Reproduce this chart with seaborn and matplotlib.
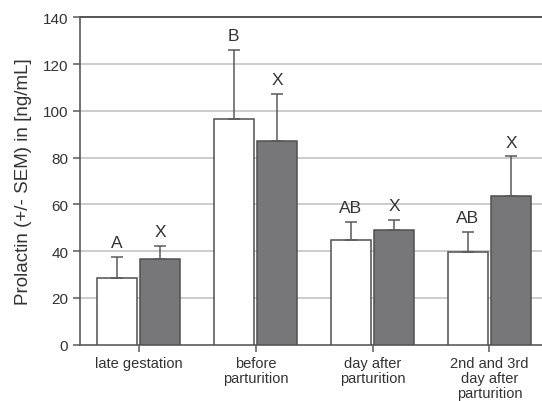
import matplotlib
matplotlib.use("Agg")
import matplotlib.pyplot as plt
import seaborn as sns
import pandas as pd

# Prolactin concentrations per sampling period, two groups (open / filled bars)
categories = ["late gestation", "before\nparturition", "day after\nparturition",
              "2nd and 3rd\nday after\nparturition"]
group_names = ["Group 1", "Group 2"]
mean_group1 = [28.7, 96.5, 44.9, 39.8]
mean_group2 = [36.7, 87.0, 49.0, 63.7]
sem_group1 = [9.0, 29.5, 7.6, 8.5]
sem_group2 = [5.4, 20.2, 4.3, 16.8]
letters_group1 = ["A", "B", "AB", "AB"]
letters_group2 = ["X", "X", "X", "X"]
y_ticks = [0, 20, 40, 60, 80, 100, 120, 140]

df = pd.DataFrame({
    "period": categories * 2,
    "group": [group_names[0]] * 4 + [group_names[1]] * 4,
    "prolactin": mean_group1 + mean_group2,
})
sems = [sem_group1, sem_group2]
letters = [letters_group1, letters_group2]

sns.set_theme(style="white")
plt.rcParams["font.family"] = ["Liberation Sans", "DejaVu Sans"]

fig = plt.figure(figsize=(5.42, 4.02), dpi=100)
ax = fig.add_axes([80 / 542, (402 - 345.7) / 402, 462 / 542, 327.4 / 402])

axis_col = "#5a5a5a"
sns.barplot(data=df, x="period", y="prolactin", hue="group", order=categories,
            hue_order=group_names, palette=["white", "#76777b"], width=0.75, gap=0.09,
            edgecolor="#505050", linewidth=1.1, errorbar=None, legend=False, ax=ax,
            zorder=3)

# upper SEM whiskers and significance letters
for container, sem_vals, labs in zip(ax.containers, sems, letters):
    for bar, s, lab in zip(container, sem_vals, labs):
        xc = bar.get_x() + bar.get_width() / 2
        top = bar.get_height()
        ax.errorbar([xc], [top], yerr=[[0], [s]], fmt="none", ecolor="#5a5a5a",
                    elinewidth=1.1, capsize=4, capthick=1.1, zorder=4)
        ax.annotate(lab, (xc, top + s), xytext=(0, 5), textcoords="offset points",
                    ha="center", va="bottom", fontsize=12.5, color="#333333")

ax.set_xlim(-0.5, -0.5 + 462 / 117)
ax.set_ylim(0, 140)
ax.set_yticks(y_ticks)
ax.set_yticklabels([str(t) for t in y_ticks], fontsize=11, color="#333333")
ax.set_xticks(range(len(categories)))
ax.set_xticklabels(categories, fontsize=10.5, color="#333333", linespacing=1.1)
ax.set_xlabel("")
ax.set_ylabel("Prolactin (+/- SEM) in [ng/mL]", fontsize=13.5, color="#333333",
              labelpad=8)

for t in y_ticks[1:-1]:
    ax.axhline(t, color="#c4c4c4", lw=1.2, zorder=1)
ax.axhline(140, color="#555555", lw=1.4, zorder=1, clip_on=False)

for side in ["top", "right"]:
    ax.spines[side].set_visible(False)
for side in ["left", "bottom"]:
    ax.spines[side].set_color(axis_col)
    ax.spines[side].set_linewidth(1.2)
ax.tick_params(axis="both", which="both", direction="out", length=5, width=1.1,
               color=axis_col, left=True, bottom=True)
ax.tick_params(axis="x", pad=3)

fig.savefig("out.png", dpi=100)
